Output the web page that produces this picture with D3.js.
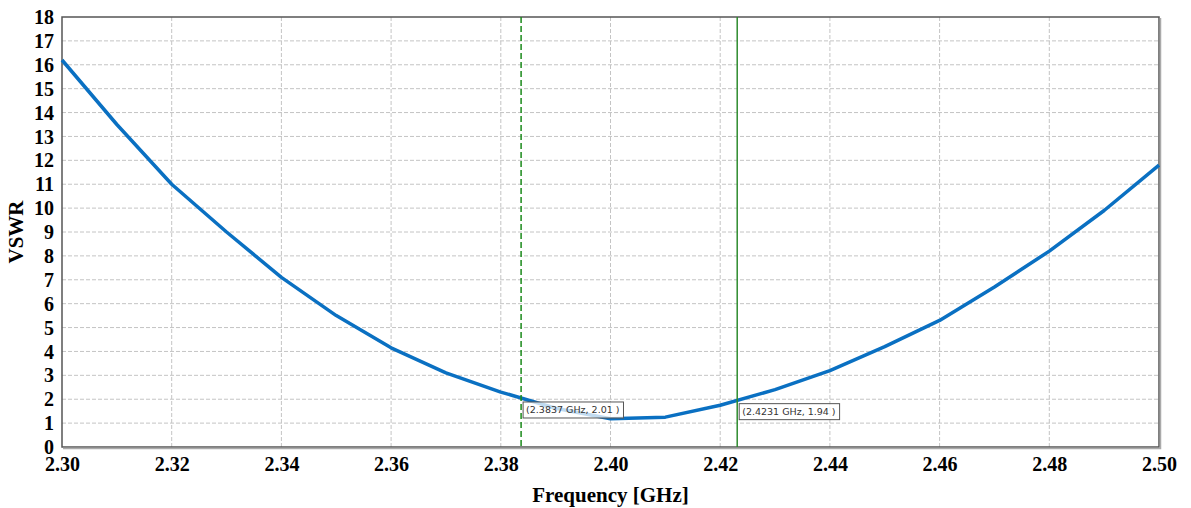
<!DOCTYPE html>
<html>
<head>
<meta charset="utf-8">
<script src="https://cdn.jsdelivr.net/npm/d3@7"></script>
<style>
body { margin: 0; background: #fff; }
</style>
</head>
<body>
<script>
// data
var freq = [2.30, 2.31, 2.32, 2.33, 2.34, 2.35, 2.36, 2.37, 2.38, 2.39, 2.40,
            2.41, 2.42, 2.43, 2.44, 2.45, 2.46, 2.47, 2.48, 2.49, 2.50];
var vswr = [16.2, 13.5, 11.0, 9.0, 7.1, 5.5, 4.15, 3.1, 2.3, 1.62, 1.18,
            1.25, 1.75, 2.4, 3.2, 4.2, 5.3, 6.7, 8.2, 9.9, 11.8];
var xTicks = [2.30, 2.32, 2.34, 2.36, 2.38, 2.40, 2.42, 2.44, 2.46, 2.48, 2.50];
var yTicks = d3.range(0, 19);
var markerFreq = [2.3837, 2.4231];
var markerVswr = [2.01, 1.94];
var markerDash = [true, false];

var width = 1191;
var height = 508;

var margin = {
    top: 17,
    bottom: 61,
    left: 62,
    right: 32,
}

var svg = d3.select("body")
    .append("svg")
    .attr("width", width)
    .attr("height", height)
    .append('g')
    .attr('transform', 'translate(' + margin.left + ',' + margin.top + ')');

var w = width - margin.left - margin.right;
var h = height - margin.top - margin.bottom;

var x = d3.scaleLinear().domain([2.30, 2.50]).range([0, w]);
var y = d3.scaleLinear().domain([0, 18]).range([h, 0]);

// grid
svg.selectAll(".hgrid")
    .data(yTicks.slice(1, -1))
    .enter().append("line")
    .attr("x1", 0).attr("x2", w)
    .attr("y1", function(d) { return y(d); })
    .attr("y2", function(d) { return y(d); })
    .attr("stroke", "#c4c4c4")
    .attr("stroke-dasharray", "4,2");

svg.selectAll(".vgrid")
    .data(xTicks.slice(1, -1))
    .enter().append("line")
    .attr("y1", 0).attr("y2", h)
    .attr("x1", function(d) { return x(d); })
    .attr("x2", function(d) { return x(d); })
    .attr("stroke", "#c4c4c4")
    .attr("stroke-dasharray", "4,2");

// frame
svg.append("rect")
    .attr("x", 0).attr("y", 0)
    .attr("width", w).attr("height", h)
    .attr("fill", "none")
    .attr("stroke", "#555")
    .attr("stroke-width", 1.5);
svg.append("path")
    .attr("d", "M" + (w + 1.5) + ",1V" + (h + 1.5) + "H1")
    .attr("fill", "none")
    .attr("stroke", "#aaa")
    .attr("stroke-width", 1.5);

// axes
var xAxis = svg.append("g")
    .attr("transform", "translate(0," + h + ")")
    .call(d3.axisBottom(x).tickValues(xTicks).tickFormat(d3.format(".2f")).tickSize(0).tickPadding(8));
var yAxis = svg.append("g")
    .call(d3.axisLeft(y).tickValues(yTicks).tickFormat(d3.format("d")).tickSize(0).tickPadding(8));

[xAxis, yAxis].forEach(function(a) {
    a.select(".domain").remove();
    a.selectAll("text")
        .style("font-family", "'Liberation Serif', 'Times New Roman', serif")
        .style("font-weight", "bold")
        .style("font-size", "20px")
        .attr("fill", "#000");
});
xAxis.selectAll("text").attr("dy", "0.8em");
yAxis.selectAll("text").attr("dy", "0.33em");

// axis titles
svg.append("text")
    .attr("x", w / 2)
    .attr("y", h + 55)
    .attr("text-anchor", "middle")
    .style("font-family", "'Liberation Serif', 'Times New Roman', serif")
    .style("font-weight", "bold")
    .style("font-size", "21px")
    .text("Frequency [GHz]");

svg.append("text")
    .attr("transform", "translate(" + (-39) + "," + (h / 2) + ") rotate(-90)")
    .attr("text-anchor", "middle")
    .style("font-family", "'Liberation Serif', 'Times New Roman', serif")
    .style("font-weight", "bold")
    .style("font-size", "21px")
    .text("VSWR");

// curve
var line = d3.line()
    .x(function(d, i) { return x(freq[i]); })
    .y(function(d) { return y(d); });

svg.append("path")
    .datum(vswr)
    .attr("d", line)
    .attr("fill", "none")
    .attr("stroke", "#0a70c2")
    .attr("stroke-width", 3.5)
    .attr("stroke-linejoin", "round");

// markers
markerFreq.forEach(function(f, i) {
    svg.append("line")
        .attr("x1", x(f)).attr("x2", x(f))
        .attr("y1", 0).attr("y2", h)
        .attr("stroke", markerDash[i] ? "#1a8a1a" : "#2e8b2e")
        .attr("stroke-width", 1.5)
        .attr("stroke-dasharray", markerDash[i] ? "6,3" : null);

    var label = "(" + f.toFixed(4) + " GHz, " + markerVswr[i].toFixed(2) + " )";
    var g = svg.append("g")
        .attr("transform", "translate(" + (x(f) + 2) + "," + (y(markerVswr[i]) + 3) + ")");
    var t = g.append("text")
        .attr("x", 3)
        .attr("y", 11.5)
        .style("font-family", "'DejaVu Sans', sans-serif")
        .style("font-size", "9.5px")
        .attr("fill", "#333")
        .text(label);
    var bw = t.node().getComputedTextLength() + 7;
    g.insert("rect", "text")
        .attr("width", bw)
        .attr("height", 16)
        .attr("fill", "rgba(255,255,255,0.75)")
        .attr("stroke", "#555");
});
</script>
</body>
</html>
